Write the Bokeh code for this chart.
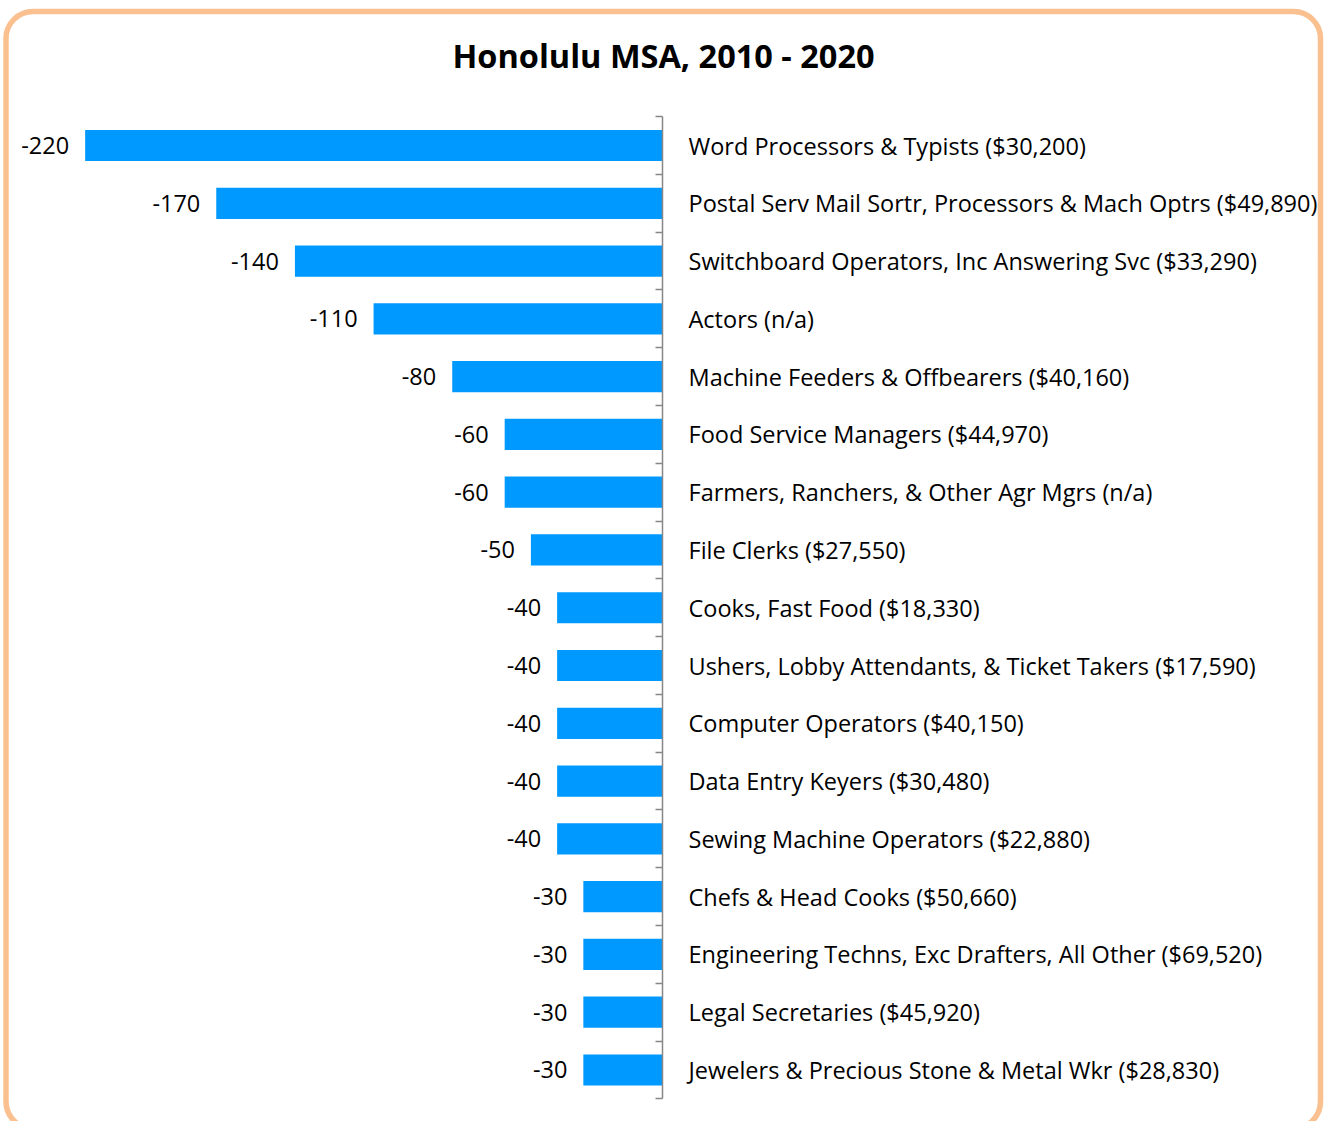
from bokeh.plotting import figure
from bokeh.models import Range1d, LinearAxis, FixedTicker, ColumnDataSource, Label
from bokeh.core.properties import value
from bokeh.embed import file_html
from bokeh.resources import INLINE

title_text = "Honolulu MSA, 2010 - 2020"
categories = [
    "Word Processors & Typists ($30,200)",
    "Postal Serv Mail Sortr, Processors & Mach Optrs ($49,890)",
    "Switchboard Operators, Inc Answering Svc ($33,290)",
    "Actors (n/a)",
    "Machine Feeders & Offbearers ($40,160)",
    "Food Service Managers ($44,970)",
    "Farmers, Ranchers, & Other Agr Mgrs (n/a)",
    "File Clerks ($27,550)",
    "Cooks, Fast Food ($18,330)",
    "Ushers, Lobby Attendants, & Ticket Takers ($17,590)",
    "Computer Operators ($40,150)",
    "Data Entry Keyers ($30,480)",
    "Sewing Machine Operators ($22,880)",
    "Chefs & Head Cooks ($50,660)",
    "Engineering Techns, Exc Drafters, All Other ($69,520)",
    "Legal Secretaries ($45,920)",
    "Jewelers & Precious Stone & Metal Wkr ($28,830)",
]
changes = [-220, -170, -140, -110, -80, -60, -60, -50, -40, -40, -40, -40, -40, -30, -30, -30, -30]
value_labels = [str(v) for v in changes]

FONT = "Open Sans"
W, H = 1326, 1121
# page geometry (page coords) -> data mapping
X0_PAGE = 661.5   # zero line
PPU = 2.622       # pixels per unit
Y0_PAGE = 145.0   # first row centre
ROW = 57.78
CANVAS_LEFT = 0.0
CANVAS_TOP = 0.0

def dx(px):
    return (px - X0_PAGE) / PPU

def dy(py):
    return (py - Y0_PAGE) / ROW

x_range = Range1d(dx(CANVAS_LEFT), dx(CANVAS_LEFT + W))
y_range = Range1d(dy(CANVAS_TOP + H), dy(CANVAS_TOP))

p = figure(width=W, height=H, x_range=x_range, y_range=y_range,
           output_backend="svg", toolbar_location=None,
           x_axis_location=None, y_axis_location=None,
           min_border=0, min_border_left=0, min_border_right=0,
           min_border_top=0, min_border_bottom=0)
p.outline_line_color = None
p.grid.visible = False
p.background_fill_color = "white"
p.border_fill_color = "white"

ys = list(range(len(categories)))
src = ColumnDataSource(dict(y=ys, v=changes, cat=categories, vl=value_labels,
                            zero=[0] * len(ys)))

# rounded frame border
p.quad(left=[dx(5.5)], right=[dx(1320.0)], top=[dy(11.0)], bottom=[dy(1128.0)],
       fill_color=None, line_color="#FAC090", line_width=5.5, border_radius=27)

p.hbar(y="y", left="v", right="zero", height=0.54, source=src,
       fill_color="#0099FF", line_color=None)

p.text(x="v", y="y", text="vl", source=src, x_offset=-16, text_align="right",
       text_baseline="middle", text_font=value(FONT), text_font_size="23.5px",
       text_color="black")

p.text(x=dx(688), y="y", text="cat", source=src, text_align="left",
       text_baseline="middle", text_font=value(FONT), text_font_size="23.5px",
       text_color="black")

ax = LinearAxis(fixed_location=0)
ax.ticker = FixedTicker(ticks=[i - 0.5 for i in range(len(categories) + 1)])
ax.bounds = (-0.5, len(categories) - 0.5)
ax.major_tick_out = 7
ax.major_tick_in = 0
ax.minor_tick_out = 0
ax.minor_tick_in = 0
ax.major_label_text_font_size = "0px"
ax.major_label_text_alpha = 0
ax.axis_line_color = "#868686"
ax.axis_line_width = 1.5
ax.major_tick_line_color = "#868686"
ax.major_tick_line_width = 1.5
p.add_layout(ax, "left")

p.add_layout(Label(x=dx(663), y=dy(55), text=title_text, text_align="center",
                   text_baseline="middle", text_font=FONT, text_font_size="32.5px",
                   text_font_style="bold", text_color="black"))

open("out.html", "w").write(file_html(p, INLINE))
